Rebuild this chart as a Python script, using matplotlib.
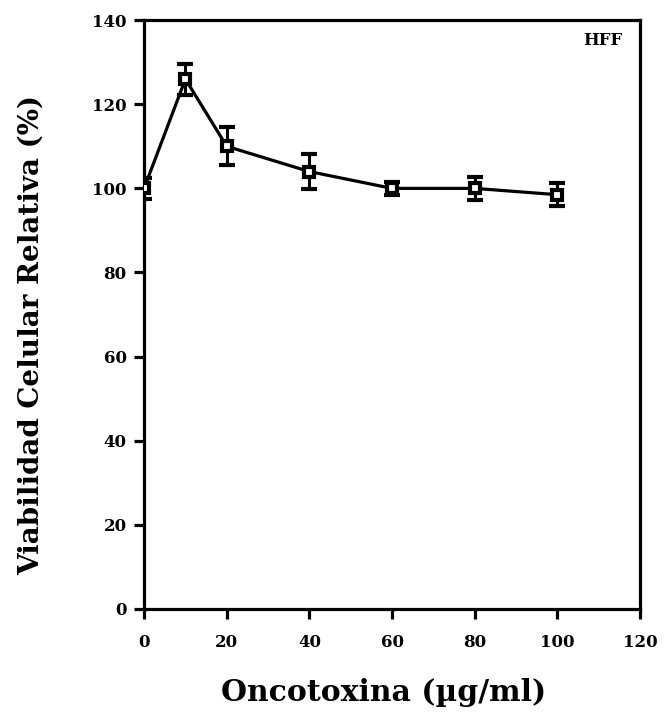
import matplotlib
matplotlib.use("Agg")
import matplotlib.pyplot as plt

# Relative cell viability of HFF cells vs. oncotoxin concentration
conc = [0, 10, 20, 40, 60, 80, 100]
viability = [100, 126, 110, 104, 100, 100, 98.5]
sd = [2.5, 3.7, 4.5, 4.2, 1.5, 2.7, 2.8]

x_ticks = [0, 20, 40, 60, 80, 100, 120]
y_ticks = [0, 20, 40, 60, 80, 100, 120, 140]

plt.rcParams['font.family'] = ['DejaVu Serif']

fig = plt.figure(figsize=(6.64, 7.23), dpi=100)
ax = fig.add_axes([0.217, 0.158, 0.747, 0.814])

ax.errorbar(conc, viability, yerr=sd, color='black', lw=2.3,
            elinewidth=2.2, capsize=5.5, capthick=2.3,
            marker='s', markersize=7.5, markerfacecolor='white',
            markeredgecolor='black', markeredgewidth=3, zorder=3)

ax.set_xlim(0, 120)
ax.set_ylim(0, 140)
ax.set_xticks(x_ticks)
ax.set_yticks(y_ticks)
for s in ax.spines.values():
    s.set_linewidth(2.3)
ax.tick_params(direction='out', length=7.5, width=2.3, labelsize=12)
ax.tick_params(axis='x', pad=11)
ax.tick_params(axis='y', pad=5)
for lab in ax.get_xticklabels() + ax.get_yticklabels():
    lab.set_fontweight('bold')

ax.set_xlabel('Oncotoxina (µg/ml)', fontsize=21.5, fontweight='bold')
ax.set_ylabel('Viabilidad Celular Relativa (%)', fontsize=20, fontweight='bold')
ax.xaxis.set_label_coords(0.482, -0.118)
ax.yaxis.set_label_coords(-0.2, 0.465)

ax.text(0.964, 0.980, 'HFF', transform=ax.transAxes, ha='right', va='top',
        fontsize=12, fontweight='bold')

fig.savefig('out.png', dpi=100)
